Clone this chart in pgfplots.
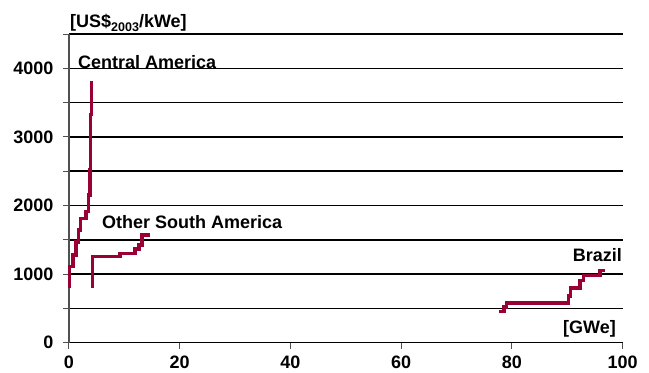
\documentclass[border=0pt]{standalone}
\usepackage{pgfplots}
\pgfplotsset{compat=1.18}
\usepackage{fontspec}
\setmainfont{Liberation Sans}

\definecolor{curve}{HTML}{990033}
\definecolor{axisgray}{HTML}{505050}

\newcommand{\lbl}{\fontsize{18}{20}\selectfont\bfseries}

\begin{document}
\begin{tikzpicture}
\begin{axis}[
  scale only axis,
  width=553.7pt, height=308.7pt,
  xmin=0, xmax=100, ymin=0, ymax=4500,
  axis lines=left,
  axis line style={-},
  separate axis lines,
  x axis line style={black, line width=1.2pt},
  y axis line style={axisgray, line width=1.2pt},
  xtick={0,20,...,100},
  ytick={0,500,...,4500},
  yticklabels={0,,1000,,2000,,3000,,4000,},
  ymajorgrids,
  grid style={black, line width=1.5pt},
  tick align=outside,
  major tick length=6pt,
  tick style={axisgray, line width=1pt},
  ticklabel style={font=\lbl},
  yticklabel style={xshift=-6pt},
  xticklabel style={yshift=-4pt},
  /pgf/number format/assume math mode=true,
  clip=false,
]

% Central America
\addplot[curve, line width=3.5pt, mark=none] coordinates {
  (0.05,800) (0.05,1110) (0.7,1110) (0.7,1280) (1.3,1280) (1.3,1470)
  (1.75,1470) (1.75,1640) (2.1,1640) (2.1,1810) (3.1,1810) (3.1,1910)
  (3.55,1910) (3.55,2150) (3.8,2150) (3.8,2520) (3.9,2520) (3.9,3330)
  (4.05,3330) (4.05,3820)
};

% Other South America
\addplot[curve, line width=3.5pt, mark=none] coordinates {
  (4.2,800) (4.2,1254) (9.2,1254) (9.2,1303) (11.9,1303) (11.9,1366)
  (12.6,1366) (12.6,1424) (13.2,1424) (13.2,1570) (14.6,1570)
};

% Brazil
\addplot[curve, line width=3.5pt, mark=none] coordinates {
  (77.7,455) (78.6,455) (78.6,520) (79.0,520) (79.0,578) (90.2,578)
  (90.2,680) (90.6,680) (90.6,800) (92.3,800) (92.3,910) (92.9,910)
  (92.9,980) (95.9,980) (95.9,1050) (96.8,1050)
};

\node[anchor=base west, inner sep=0, font=\lbl] at (axis cs:1.6,3990) {Central America};
\node[anchor=base west, inner sep=0, font=\lbl] at (axis cs:5.96,1672) {Other South America};
\node[anchor=base east, inner sep=0, font=\lbl] at (axis cs:99.9,1190) {Brazil};
\node[anchor=base east, inner sep=0, font=\lbl] at (axis cs:98.8,141) {[GWe]};
\node[anchor=base west, inner sep=0, font=\lbl] at ([xshift=1pt, yshift=7pt]rel axis cs:0,1)
  {[US\$\raisebox{-4pt}{\fontsize{12.5}{13}\selectfont 2003}/kWe]};
\end{axis}
\pgfresetboundingbox
\path ([xshift=-69pt, yshift=-29.3pt]current axis.south west)
  rectangle ([xshift=26.3pt, yshift=34pt]current axis.north east);
\end{tikzpicture}
\end{document}
